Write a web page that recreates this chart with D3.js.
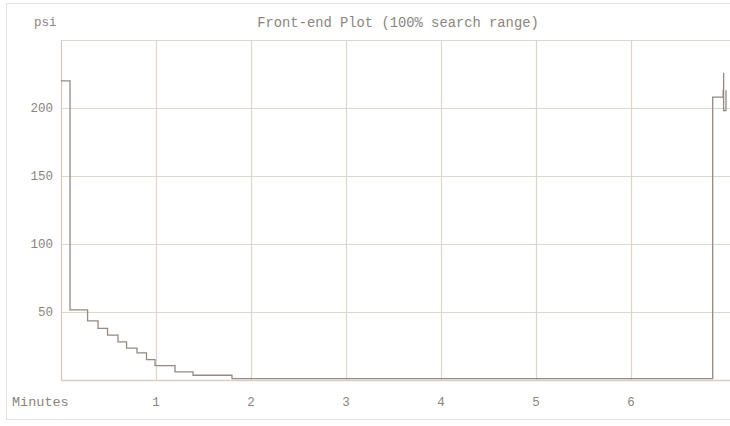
<!DOCTYPE html>
<html>
<head>
<meta charset="utf-8">
<script src="https://cdn.jsdelivr.net/npm/d3@7"></script>
<style>
  body { margin: 0; background: #fff; }
  svg { display: block; }
  text { font-family: "Liberation Mono", "DejaVu Sans Mono", monospace; fill: #8a8580; }
</style>
</head>
<body>
<svg id="chart" width="730" height="426"></svg>
<script>
// pressure trace, minutes vs psi (step)
var minutes = [0, 0.095, 0.28, 0.39, 0.49, 0.6, 0.69, 0.8, 0.9, 0.99, 1.2, 1.39, 1.8, 6.86, 6.97, 6.975, 6.975, 7];
var psi     = [220, 51.5, 43.5, 38, 33, 28, 23.5, 20, 15, 10.5, 6, 3.5, 1, 208, 213, 226, 198, 213];
var xTicks = [1, 2, 3, 4, 5, 6];
var yTicks = [50, 100, 150, 200];
var title = "Front-end Plot (100% search range)";

var svg = d3.select("#chart"),
    margin = {left: 61, top: 40, right: 0, bottom: 46};

var x = d3.scaleLinear().domain([0, 7]).range([margin.left, margin.left + 95 * 7]);
var y = d3.scaleLinear().domain([0, 250]).range([380, 380 - 250 * 1.36]);

// faded outer frame
svg.append("rect")
    .attr("x", 6.5).attr("y", 3.5).attr("width", 740).attr("height", 416)
    .attr("fill", "none").attr("stroke", "#e6e3dc").attr("stroke-width", 1);

// grid
var grid = svg.append("g").attr("stroke", "#dcd7cc").attr("stroke-width", 1.2);
grid.selectAll(".hg").data(yTicks.concat([250])).enter().append("line")
    .attr("x1", margin.left).attr("x2", 730)
    .attr("y1", function(d) { return Math.round(y(d)) + 0.5; })
    .attr("y2", function(d) { return Math.round(y(d)) + 0.5; });
grid.selectAll(".vg").data(xTicks).enter().append("line")
    .attr("y1", y(250)).attr("y2", y(0))
    .attr("x1", function(d) { return Math.round(x(d)) + 0.5; })
    .attr("x2", function(d) { return Math.round(x(d)) + 0.5; });

// axes lines
svg.append("line").attr("x1", margin.left + 0.5).attr("x2", margin.left + 0.5)
    .attr("y1", y(250)).attr("y2", y(0)).attr("stroke", "#cfc9bd").attr("stroke-width", 1.2);
svg.append("line").attr("x1", margin.left).attr("x2", 730)
    .attr("y1", y(0) + 0.5).attr("y2", y(0) + 0.5).attr("stroke", "#dccdc4").attr("stroke-width", 1.5);

// tick labels
svg.selectAll(".yl").data(yTicks).enter().append("text")
    .attr("x", 53).attr("y", function(d) { return y(d) + 4; })
    .attr("text-anchor", "end").attr("font-size", 12.5)
    .text(function(d) { return d; });
svg.append("text").attr("x", 34).attr("y", 26).attr("font-size", 12.5).text("psi");

svg.selectAll(".xl").data(xTicks).enter().append("text")
    .attr("x", function(d) { return x(d); }).attr("y", 406)
    .attr("text-anchor", "middle").attr("font-size", 12.5)
    .text(function(d) { return d; });
svg.append("text").attr("x", 12).attr("y", 406).attr("font-size", 13.5).text("Minutes");

svg.append("text").attr("x", 398).attr("y", 27).attr("text-anchor", "middle")
    .attr("font-size", 13.8).text(title);

// trace
var pts = minutes.map(function(m, i) { return [m, psi[i]]; });
var line = d3.line()
    .x(function(d) { return x(d[0]); })
    .y(function(d) { return y(d[1]); })
    .curve(d3.curveStepAfter);
svg.append("path").datum(pts)
    .attr("fill", "none").attr("stroke", "#938a82").attr("stroke-width", 1.3)
    .attr("d", line);
</script>
</body>
</html>
